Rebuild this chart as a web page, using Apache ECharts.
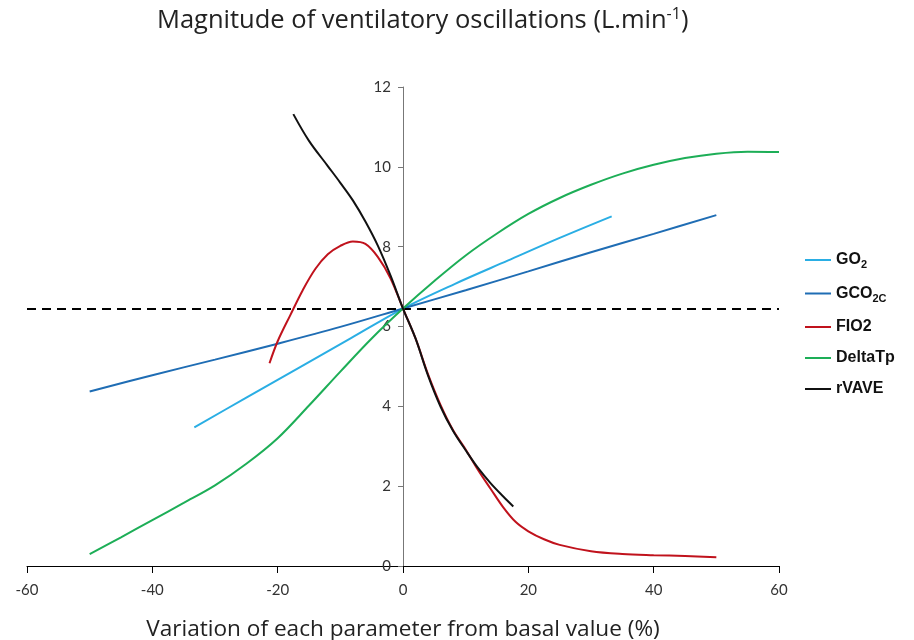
<!DOCTYPE html>
<html>
<head>
<meta charset="utf-8">
<script src="https://cdn.jsdelivr.net/npm/echarts@6/dist/echarts.min.js"></script>
<style>html,body{margin:0;padding:0;background:#fff}#c{width:914px;height:640px}</style>
</head>
<body>
<div id="c"></div>
<script>
const xTicks = [-60, -40, -20, 0, 20, 40, 60];
const yTicks = [0, 2, 4, 6, 8, 10, 12];
const baseline = 6.45;

const go2X = [-33.3, -25, -16.7, -8.3, 0, 8.3, 16.7, 25, 33.3];
const go2Y = [3.47, 4.22, 4.96, 5.71, 6.45, 7.07, 7.65, 8.22, 8.76];

const gco2cX = [-50, -40, -30, -20, -10, 0, 10, 20, 30, 40, 50];
const gco2cY = [4.37, 4.78, 5.17, 5.57, 5.99, 6.45, 6.91, 7.38, 7.86, 8.32, 8.79];

const fio2X = [-21.3, -20, -18, -16, -14, -12, -10, -8, -6, -4, -2, 0, 2, 4, 6, 8, 10, 12, 14, 16, 18, 20, 22.5, 25, 30, 35, 40, 45, 50];
const fio2Y = [5.08, 5.63, 6.28, 6.91, 7.44, 7.81, 8.02, 8.13, 8.07, 7.74, 7.21, 6.45, 5.7, 4.8, 4.03, 3.4, 2.92, 2.4, 1.93, 1.47, 1.1, 0.87, 0.67, 0.53, 0.37, 0.3, 0.27, 0.25, 0.22];

const deltaX = [-50, -45, -40, -35, -30, -25, -20, -15, -10, -5, 0, 5, 10, 15, 20, 25, 30, 35, 40, 45, 50, 55, 60];
const deltaY = [0.30, 0.72, 1.15, 1.58, 2.02, 2.56, 3.2, 4.02, 4.87, 5.7, 6.45, 7.14, 7.78, 8.33, 8.82, 9.22, 9.55, 9.83, 10.05, 10.22, 10.33, 10.38, 10.37];

const rvaveX = [-17.5, -15, -12, -10, -8, -6, -4, -2, 0, 2, 4, 6, 8, 10, 12, 14, 16, 17.6];
const rvaveY = [11.32, 10.65, 10.02, 9.6, 9.16, 8.63, 8.02, 7.28, 6.45, 5.7, 4.77, 3.99, 3.38, 2.9, 2.45, 2.07, 1.74, 1.49];

const seriesNames = ['GO2', 'GCO2C', 'FIO2', 'DeltaTp', 'rVAVE'];
const legendLabels = {
  'GO2': 'GO{sub|2}',
  'GCO2C': 'GCO{sub|2C}',
  'FIO2': 'FIO2',
  'DeltaTp': 'DeltaTp',
  'rVAVE': 'rVAVE'
};
const colors = ['#2aaee4', '#1f6db4', '#c0121c', '#1dae57', '#111111'];

function pairs(xs, ys) { return xs.map((x, i) => [x, ys[i]]); }

const dataSets = [pairs(go2X, go2Y), pairs(gco2cX, gco2cY), pairs(fio2X, fio2Y), pairs(deltaX, deltaY), pairs(rvaveX, rvaveY)];

const chart = echarts.init(document.getElementById('c'), null, {renderer: 'canvas'});

const series = seriesNames.map((n, i) => ({
  name: n,
  type: 'line',
  data: dataSets[i],
  smooth: 0.35,
  showSymbol: false,
  symbol: 'none',
  lineStyle: {color: colors[i], width: 2},
  itemStyle: {color: colors[i]},
  z: 3 + i,
  animation: false
}));
series[0].markLine = {
  silent: true,
  symbol: 'none',
  label: {show: false},
  animation: false,
  lineStyle: {color: '#000', type: [9, 6], width: 2},
  data: [{yAxis: baseline}]
};

chart.setOption({
  animation: false,
  backgroundColor: '#fff',
  graphic: [{
    type: 'text',
    left: 157,
    top: 6,
    style: {
      text: 'Magnitude of ventilatory oscillations (L.min{sup|-1})',
      font: '25.5px "Open Sans"',
      fill: '#222',
      rich: {
        sup: {fontSize: 16, fontFamily: 'Open Sans', fill: '#222', padding: [0, 0, 13, 0]}
      }
    }
  }],
  grid: {left: 27, right: 135, top: 87, bottom: 74, outerBoundsMode: 'none', containLabel: false},
  legend: {
    orient: 'vertical',
    left: 800,
    top: 247,
    itemWidth: 26,
    itemHeight: 2,
    itemGap: 15,
    icon: 'rect',
    data: seriesNames,
    formatter: n => legendLabels[n],
    textStyle: {
      fontFamily: 'Liberation Sans',
      fontWeight: 'bold',
      fontSize: 16,
      color: '#111',
      rich: {
        sub: {fontFamily: 'Liberation Sans', fontWeight: 'bold', fontSize: 11, color: '#111', padding: [10, 0, 0, 0]}
      }
    }
  },
  xAxis: {
    type: 'value',
    min: -60, max: 60, interval: 20,
    name: 'Variation of each parameter from basal value (%)',
    nameLocation: 'middle',
    nameGap: 52,
    nameTextStyle: {fontFamily: 'Open Sans', fontSize: 22.6, color: '#222'},
    axisLine: {show: true, lineStyle: {color: '#000', width: 1}},
    axisTick: {show: true, length: 7, lineStyle: {color: '#000'}},
    axisLabel: {fontFamily: 'Lato', fontSize: 15, color: '#333', margin: 17,
      formatter: v => xTicks.includes(v) ? String(v) : ''},
    splitLine: {show: false}
  },
  yAxis: {
    type: 'value',
    min: 0, max: 12, interval: 2,
    offset: -376,
    axisLine: {show: true, onZero: false, lineStyle: {color: '#777', width: 1}},
    axisTick: {show: true, length: 5, lineStyle: {color: '#777'}},
    axisLabel: {fontFamily: 'Lato', fontSize: 15, color: '#333', margin: 12,
      formatter: v => yTicks.includes(v) ? String(v) : ''},
    splitLine: {show: false}
  },
  series: series
});
</script>
</body>
</html>
